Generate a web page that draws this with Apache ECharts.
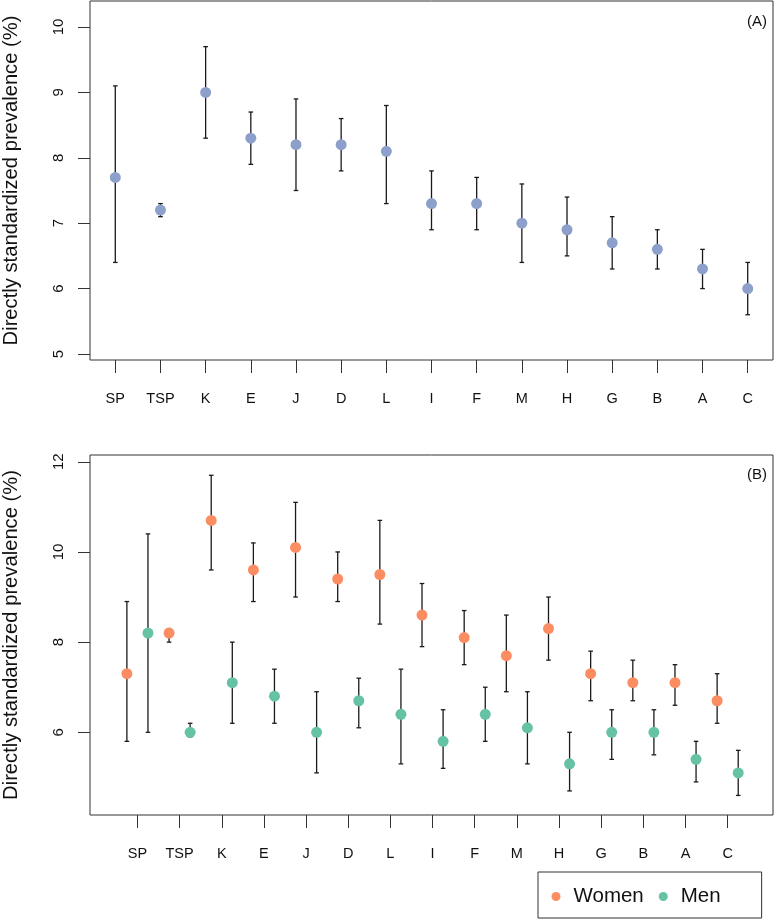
<!DOCTYPE html>
<html><head><meta charset="utf-8">
<script src="https://cdn.jsdelivr.net/npm/echarts@6/dist/echarts.min.js"></script>
<style>html,body{margin:0;padding:0;background:#fff}#c{width:775px;height:920px}</style>
</head><body><div id="c"></div>
<script>
const categories = ['SP','TSP','K','E','J','D','L','I','F','M','H','G','B','A','C'];
const allMean  = [7.7,7.2,9.0,8.3,8.2,8.2,8.1,7.3,7.3,7.0,6.9,6.7,6.6,6.3,6.0];
const allLower = [6.4,7.1,8.3,7.9,7.5,7.8,7.3,6.9,6.9,6.4,6.5,6.3,6.3,6.0,5.6];
const allUpper = [9.1,7.3,9.7,8.7,8.9,8.6,8.8,7.8,7.7,7.6,7.4,7.1,6.9,6.6,6.4];
const womenMean  = [7.3,8.2,10.7,9.6,10.1,9.4,9.5,8.6,8.1,7.7,8.3,7.3,7.1,7.1,6.7];
const womenLower = [5.8,8.0,9.6,8.9,9.0,8.9,8.4,7.9,7.5,6.9,7.6,6.7,6.7,6.6,6.2];
const womenUpper = [8.9,8.3,11.7,10.2,11.1,10.0,10.7,9.3,8.7,8.6,9.0,7.8,7.6,7.5,7.3];
const menMean  = [8.2,6.0,7.1,6.8,6.0,6.7,6.4,5.8,6.4,6.1,5.3,6.0,6.0,5.4,5.1];
const menLower = [6.0,5.9,6.2,6.2,5.1,6.1,5.3,5.2,5.8,5.3,4.7,5.4,5.5,4.9,4.6];
const menUpper = [10.4,6.2,8.0,7.4,6.9,7.2,7.4,6.5,7.0,6.9,6.0,6.5,6.5,5.8,5.6];
const yTicksA = [5,6,7,8,9,10];
const yTicksB = [6,8,10,12];
const yTitle = 'Directly standardized prevalence (%)';

const FONT = "'Liberation Sans', Arial, sans-serif";
const colAll = '#8DA0CB', colWomen = '#FC8D62', colMen = '#66C2A5';

const xA = categories.map((c,i)=>i+1);
const xTicksB = categories.map((c,i)=>2*i+1.5);
const xWomen = categories.map((c,i)=>2*i+1);
const xMen = categories.map((c,i)=>2*i+2);

function errRender(params, api){
  const x = api.value(0), lo = api.value(1), hi = api.value(2);
  const a = api.coord([x, hi]), b = api.coord([x, lo]);
  const w = 2.3;
  const st = {stroke:'#1a1a1a', lineWidth:1.3};
  return {type:'group', children:[
    {type:'line', shape:{x1:a[0],y1:a[1],x2:b[0],y2:b[1]}, style:st},
    {type:'line', shape:{x1:a[0]-w,y1:a[1],x2:a[0]+w,y2:a[1]}, style:st},
    {type:'line', shape:{x1:b[0]-w,y1:b[1],x2:b[0]+w,y2:b[1]}, style:st}
  ]};
}

function xAxisDef(grid, min, max, ticks){
  return {type:'value', gridIndex:grid, min:min, max:max,
    axisLine:{show:false, onZero:false}, splitLine:{show:false},
    axisTick:{show:true, customValues:ticks, length:13, lineStyle:{color:'#333', width:1}},
    axisLabel:{customValues:ticks, margin:31, fontSize:14.5, color:'#111', fontFamily:FONT,
      formatter:(v)=>{const i = ticks.findIndex(t=>Math.abs(t-v)<1e-6); return i>=0?categories[i]:'';}}
  };
}
function yAxisDef(grid, min, max, ticks){
  return {type:'value', gridIndex:grid, min:min, max:max,
    axisLine:{show:false, onZero:false}, splitLine:{show:false},
    axisTick:{show:true, customValues:ticks, length:12, lineStyle:{color:'#333', width:1}},
    axisLabel:{customValues:ticks, rotate:90, margin:24, fontSize:15, color:'#111', fontFamily:FONT},
    name:yTitle, nameLocation:'middle', nameRotate:90, nameGap:69,
    nameTextStyle:{fontSize:20.2, color:'#111', fontFamily:FONT}
  };
}

const chart = echarts.init(document.getElementById('c'), null, {renderer:'canvas'});
chart.setOption({
  animation:false,
  backgroundColor:'#fff',
  title:[
    {text:'(A)', right:8, top:14, padding:0, textStyle:{fontSize:15, fontWeight:'normal', color:'#111', fontFamily:FONT}},
    {text:'(B)', right:8, top:467, padding:0, textStyle:{fontSize:15, fontWeight:'normal', color:'#111', fontFamily:FONT}}
  ],
  grid:[
    {left:90, right:2, top:1, height:359, show:true, borderColor:'#333', borderWidth:1, backgroundColor:'transparent', outerBoundsMode:'none', containLabel:false},
    {left:90, right:2, top:455, height:360, show:true, borderColor:'#333', borderWidth:1, backgroundColor:'transparent', outerBoundsMode:'none', containLabel:false}
  ],
  xAxis:[ xAxisDef(0, 0.44, 15.56, xA), xAxisDef(1, -0.75, 31.65, xTicksB) ],
  yAxis:[ yAxisDef(0, 4.908, 10.398, yTicksA), yAxisDef(1, 4.166, 12.15, yTicksB) ],
  legend:{
    data:['Women','Men'], left:538, top:872, orient:'horizontal',
    padding:[14,41,11,13.5], itemGap:15, itemWidth:9, itemHeight:9, icon:'circle',
    borderColor:'#333', borderWidth:1,
    textStyle:{fontSize:20.5, color:'#111', fontFamily:FONT, padding:[0,0,0,8]}
  },
  series:[
    {type:'custom', name:'allErr', xAxisIndex:0, yAxisIndex:0, renderItem:errRender,
     encode:{x:0, y:[1,2]}, data:xA.map((x,i)=>[x, allLower[i], allUpper[i]]), z:2, silent:true},
    {type:'scatter', name:'All', xAxisIndex:0, yAxisIndex:0, symbolSize:11,
     itemStyle:{color:colAll, opacity:1}, data:xA.map((x,i)=>[x, allMean[i]]), z:3, silent:true},
    {type:'custom', name:'womenErr', xAxisIndex:1, yAxisIndex:1, renderItem:errRender,
     encode:{x:0, y:[1,2]}, data:xWomen.map((x,i)=>[x, womenLower[i], womenUpper[i]]), z:2, silent:true},
    {type:'custom', name:'menErr', xAxisIndex:1, yAxisIndex:1, renderItem:errRender,
     encode:{x:0, y:[1,2]}, data:xMen.map((x,i)=>[x, menLower[i], menUpper[i]]), z:2, silent:true},
    {type:'scatter', name:'Women', xAxisIndex:1, yAxisIndex:1, symbolSize:11,
     itemStyle:{color:colWomen, opacity:1}, data:xWomen.map((x,i)=>[x, womenMean[i]]), z:3, silent:true},
    {type:'scatter', name:'Men', xAxisIndex:1, yAxisIndex:1, symbolSize:11,
     itemStyle:{color:colMen, opacity:1}, data:xMen.map((x,i)=>[x, menMean[i]]), z:3, silent:true}
  ]
});
</script></body></html>
